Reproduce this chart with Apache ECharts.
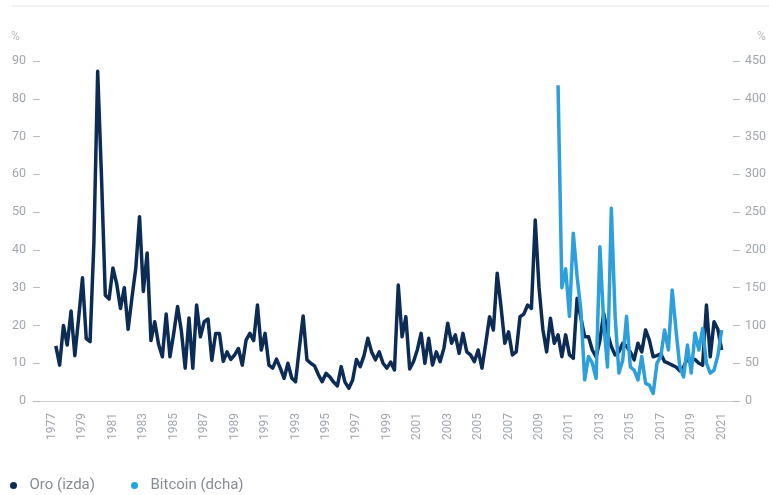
<!DOCTYPE html>
<html>
<head>
<meta charset="utf-8">
<script src="https://cdn.jsdelivr.net/npm/echarts@6/dist/echarts.min.js"></script>
<style>
  html, body { margin: 0; padding: 0; background: #ffffff; }
  #chart { width: 769px; height: 495px; }
</style>
</head>
<body>
<div id="chart"></div>
<script>
// Quarterly volatility readings (%), first quarter listed = 1977 Q2
const goldStart = 1977.25;
const goldValues = [
  14.6, 9.5, 20, 14.8, 23.8, 12, 22, 32.6, 16.5, 15.7,
  41.8, 87.3, 59.4, 28, 27, 35.2, 31, 24.5, 30, 19,
  27.3, 35, 48.8, 29, 39.2, 16, 21, 15, 11.7, 23,
  11.7, 18, 25, 18.5, 8.7, 22, 8.7, 25.4, 17, 21,
  21.7, 10.8, 17.9, 17.9, 10.5, 13, 11, 12.2, 13.9, 9.5,
  16.1, 17.9, 16, 25.4, 13.5, 17.9, 9.5, 8.7, 11.1, 8.7,
  6, 10, 6.1, 5.1, 14, 22.5, 10.9, 10, 9.3, 7,
  5.1, 7.3, 6.4, 5, 4, 9.1, 5, 3.4, 5.5, 11,
  9.1, 12, 16.6, 13, 10.9, 13, 10, 8.7, 10.3, 8.2,
  30.7, 17, 22.3, 8.5, 10.4, 13.5, 17.9, 10, 16.6, 9.5,
  13, 10.4, 14, 20.6, 15.3, 17.5, 12.6, 17.9, 13, 12.2,
  10.4, 13.5, 8.7, 15.3, 22.3, 18.8, 33.8, 25, 15.3, 18.3,
  12.2, 13, 22.3, 23, 25.4, 24.5, 47.9, 30, 19, 13,
  21.9, 15.3, 17.5, 11.7, 17.5, 12.2, 11.3, 27.2, 22, 17,
  17, 13.5, 11.7, 16, 23.2, 18, 14.4, 12.2, 13, 15.3,
  14.5, 13, 10.9, 15.3, 13, 18.8, 16.1, 11.7, 12, 12.5,
  10.4, 10, 9.5, 9, 8, 9, 11.3, 11, 11, 10,
  9.5, 25.4, 11.7, 21, 19, 13.5
];

// Bitcoin, quarterly from 2010 Q2 (%)
const btcStart = 2010.25;
const btcValues = [
  418, 150, 175, 112, 222, 165, 120, 28, 59, 50,
  30, 204, 103, 45, 255, 112, 37, 54, 112, 45,
  41, 28, 59, 23.4, 21, 10, 50, 59, 94, 67.5,
  147, 94, 45, 32, 74, 37, 90, 67.5, 96, 50,
  37, 41, 60, 94
];

const yearTicks = [1977, 1979, 1981, 1983, 1985, 1987, 1989, 1991, 1993, 1995, 1997,
  1999, 2001, 2003, 2005, 2007, 2009, 2011, 2013, 2015, 2017, 2019, 2021];
const leftTicks = { min: 0, max: 90, interval: 10 };
const rightTicks = { min: 0, max: 450, interval: 50 };

const seriesNames = ['Oro (izda)', 'Bitcoin (dcha)'];
const colors = ['#0c2c55', '#2d9fdb'];

const FONT = 'Roboto, "Liberation Sans", sans-serif';
const labelColor = '#a2a7ae';

const toPairs = (start, vals) => vals.map((v, i) => [start + i / 4, v]);

const chart = echarts.init(document.getElementById('chart'), null, { renderer: 'canvas' });

chart.setOption({
  animation: false,
  backgroundColor: '#ffffff',
  textStyle: { fontFamily: FONT },
  grid: { left: 33, right: 29, top: 61, bottom: 94, containLabel: false },
  graphic: [
    { type: 'line', shape: { x1: 12, y1: 6, x2: 769, y2: 6 },
      style: { stroke: '#e4e6e9', lineWidth: 1 } },
    { type: 'text', left: 11, top: 31,
      style: { text: '%', fill: '#b9bdc3', font: '12px ' + FONT } },
    { type: 'text', left: 757, top: 31,
      style: { text: '%', fill: '#b9bdc3', font: '12px ' + FONT } }
  ],
  legend: {
    left: 5, top: 473,
    icon: 'circle',
    itemWidth: 22, itemHeight: 7,
    itemGap: 36,
    textStyle: { color: '#868c95', fontSize: 15, fontFamily: FONT },
    data: seriesNames
  },
  xAxis: {
    type: 'value',
    min: 1975.75,
    max: 2022.2,
    axisLine: { show: true, lineStyle: { color: '#cdd0d4', width: 1 } },
    axisTick: { show: false },
    splitLine: { show: false },
    axisLabel: {
      customValues: yearTicks,
      rotate: 90,
      margin: 12,
      color: labelColor,
      fontSize: 12,
      fontFamily: FONT,
      formatter: v => String(v)
    }
  },
  yAxis: [
    {
      type: 'value',
      position: 'left',
      min: leftTicks.min, max: leftTicks.max, interval: leftTicks.interval,
      axisLine: { show: false },
      axisTick: { show: true, inside: true, length: 7, lineStyle: { color: '#b9bdc3' } },
      splitLine: { show: false },
      axisLabel: { margin: 7, color: labelColor, fontSize: 12.5, fontFamily: FONT }
    },
    {
      type: 'value',
      position: 'right',
      min: rightTicks.min, max: rightTicks.max, interval: rightTicks.interval,
      axisLine: { show: false },
      axisTick: { show: true, inside: true, length: 7, lineStyle: { color: '#b9bdc3' } },
      splitLine: { show: false },
      axisLabel: { margin: 5, color: labelColor, fontSize: 12.5, fontFamily: FONT }
    }
  ],
  series: [
    {
      name: seriesNames[0],
      type: 'line',
      yAxisIndex: 0,
      data: toPairs(goldStart, goldValues),
      showSymbol: false,
      itemStyle: { color: colors[0] },
      lineStyle: { color: colors[0], width: 3.5, join: 'round' },
      z: 2
    },
    {
      name: seriesNames[1],
      type: 'line',
      yAxisIndex: 1,
      data: toPairs(btcStart, btcValues),
      showSymbol: false,
      itemStyle: { color: '#1ea3e8' },
      lineStyle: { color: colors[1], width: 3.5, join: 'round' },
      z: 3
    }
  ]
});
</script>
</body>
</html>
